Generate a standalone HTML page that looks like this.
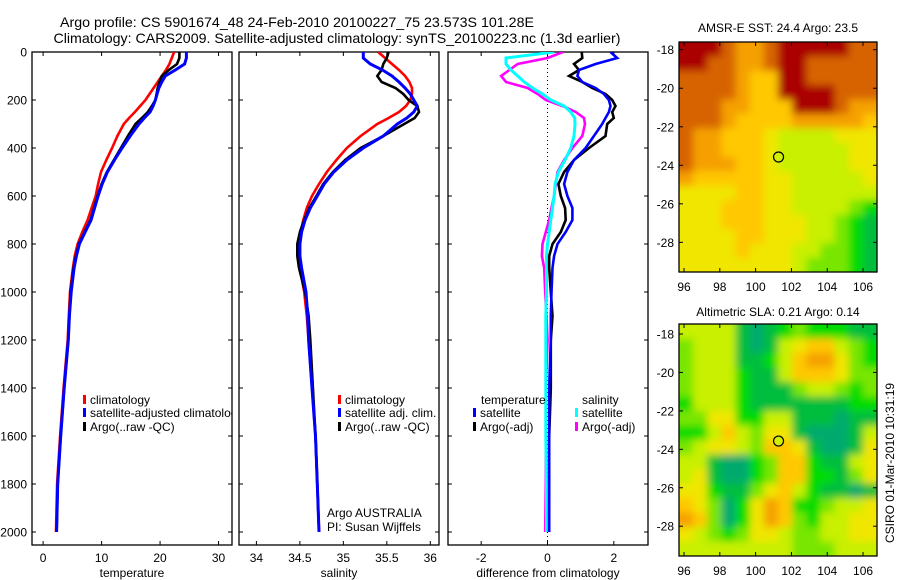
<!DOCTYPE html>
<html><head><meta charset="utf-8"><title>Argo profile</title>
<style>
html,body{margin:0;padding:0;background:#fff;}
svg{display:block;font-family:"Liberation Sans",Arial,sans-serif;}
</style></head>
<body>
<svg id="fig" width="900" height="580" viewBox="0 0 900 580" xmlns="http://www.w3.org/2000/svg">
<rect x="0" y="0" width="900" height="580" fill="#fff"/>
<text x="297" y="27" font-size="14" text-anchor="middle" textLength="474" lengthAdjust="spacingAndGlyphs">Argo profile: CS 5901674_48 24-Feb-2010 20100227_75 23.573S 101.28E</text>
<text x="337" y="43" font-size="14" text-anchor="middle" textLength="567" lengthAdjust="spacingAndGlyphs">Climatology: CARS2009. Satellite-adjusted climatology: synTS_20100223.nc (1.3d earlier)</text>
<defs>
<clipPath id="c1"><rect x="32" y="52" width="200" height="493"/></clipPath>
<clipPath id="c2"><rect x="239" y="52" width="200" height="493"/></clipPath>
<clipPath id="c3"><rect x="448" y="52" width="201" height="493"/></clipPath>
<clipPath id="m1"><rect x="679" y="42" width="198" height="230"/></clipPath>
<clipPath id="m2"><rect x="679" y="324" width="198" height="232"/></clipPath>
<filter id="smooth" x="-5%" y="-5%" width="110%" height="110%">
<feGaussianBlur stdDeviation="4"/>
<feComponentTransfer><feFuncA type="linear" slope="4" intercept="0"/></feComponentTransfer>
</filter>
</defs>
<g id="root"></g>
</svg>
<script>
// ---------- profile data ----------
const depths = [0,25,50,75,100,125,150,175,200,225,250,275,300,350,400,450,500,550,600,650,700,750,800,850,900,1000,1100,1200,1400,1600,1800,2000];
const tempClim = [22.4,22.0,21.6,21.0,20.3,19.6,18.9,18.2,17.5,16.6,15.7,14.7,13.8,12.7,11.8,10.8,9.9,9.4,9.0,8.3,7.6,6.7,5.9,5.4,5.1,4.6,4.4,4.2,3.5,2.9,2.4,2.2];
const tempSat = [24.5,24.5,24.2,22.6,20.9,20.3,19.8,19.5,19.2,18.8,18.3,17.3,16.4,14.9,13.5,12.2,11.0,10.1,9.4,8.8,8.2,7.2,6.2,5.7,5.3,4.8,4.5,4.3,3.6,3.0,2.5,2.3];
const tempArgo = [23.3,23.3,22.9,21.5,20.3,19.9,19.6,19.4,19.2,18.6,17.9,16.9,15.8,14.5,13.3,12.1,10.9,10.0,9.3,8.7,8.1,7.1,6.1,5.6,5.2,4.7,4.5,4.3,3.6,3.0,2.5,2.3];
const salClim = [35.40,35.48,35.56,35.64,35.71,35.76,35.79,35.79,35.77,35.72,35.64,35.52,35.39,35.20,35.04,34.92,34.81,34.72,34.64,34.58,34.54,34.51,34.50,34.50,34.50,34.55,34.58,34.60,34.64,34.68,34.70,34.72];
const salSat = [35.23,35.23,35.31,35.45,35.56,35.64,35.71,35.77,35.81,35.85,35.81,35.73,35.62,35.46,35.23,35.04,34.89,34.78,34.70,34.62,34.56,34.52,34.50,34.50,34.52,34.57,34.59,34.60,34.64,34.68,34.70,34.72];
const salArgo = [35.52,35.50,35.46,35.44,35.39,35.44,35.60,35.69,35.75,35.85,35.87,35.82,35.70,35.46,35.20,35.02,34.88,34.77,34.69,34.61,34.55,34.50,34.47,34.47,34.49,34.56,34.60,34.62,34.65,34.68,34.70,34.72];
const diffTempSat = [1.9,2.1,1.45,0.95,0.9,1.05,1.45,1.7,1.85,1.9,1.85,1.75,1.65,1.4,1.15,0.8,0.6,0.5,0.6,0.75,0.75,0.55,0.3,0.2,0.15,0.12,0.1,0.1,0.05,0.05,0.05,0.05];
const diffTempArgo = [1.03,1.05,0.8,0.95,0.65,1.05,1.35,1.75,1.95,2.05,1.95,2.0,1.8,1.75,1.25,0.8,0.5,0.33,0.4,0.53,0.55,0.4,0.15,0.05,0.05,0.1,0.15,0.1,0.1,0.05,0.05,0.05];
const diffSalSat = [0.2,-1.25,-1.25,-1.1,-0.9,-0.7,-0.45,-0.15,0.1,0.5,0.7,0.82,0.83,0.8,0.7,0.53,0.33,0.23,0.2,0.15,0.1,0.05,0,-0.03,-0.03,-0.03,-0.05,-0.05,-0.05,-0.05,-0.03,-0.03];
const diffSalArgo = [0.47,0.0,-0.9,-1.15,-1.4,-1.25,-0.6,-0.3,-0.05,0.45,0.85,1.1,1.13,1.05,0.75,0.5,0.3,0.25,0.2,0.12,0.05,-0.05,-0.15,-0.17,-0.1,-0.07,-0.03,0,-0.05,-0.05,-0.05,-0.07];
const depthTicks = [0,200,400,600,800,1000,1200,1400,1600,1800,2000];
const tempTicks = [0,10,20,30];
const salTicks = [34,34.5,35,35.5,36];
const salTickLabels = ['34','34.5','35','35.5','36'];
const diffTicks = [-2,0,2];
// ---------- map data (rows north->south, digits = colour level 0..9) ----------
const sstGrid = [
"99987789999988","99887789988888","88887669988888","88887669999888",
"88877666999877","88876666777776","87766654444555","87766654444455",
"87776654444455","76666655444445","55556655444444","55566655444432",
"55566655544321","55556655544321","55556555443321","55555555433321"];
const slaGrid = [
"44441012322211","34441014566432","34441124677532","34442114666533",
"34442111344323","24442111111122","33552244111011","22464355100014",
"34554366510015","44100236621145","45100236622135","55211356421101",
"65302576223445","76302576324455","54323554334455","44444444333444"];
const mapColors = ['#00aa6e','#00be3c','#00dc00','#78e600','#c8f000','#f0e600','#ffc800','#f5a000','#d76400','#aa0000'];
const lonTicks = [96,98,100,102,104,106];
const latTicks = [-18,-20,-22,-24,-26,-28];
const argoLon = 101.28, argoLat = -23.57;

const NS = 'http://www.w3.org/2000/svg';
const root = document.getElementById('root');
function mk(tag, attrs, parent){
  const e = document.createElementNS(NS, tag);
  for (const k in attrs) e.setAttribute(k, attrs[k]);
  (parent||root).appendChild(e);
  return e;
}
function yD(d){ return 52 + d*0.24; }

function panel(name, x0, xmin, xmax, ticks, tickLabels, xlabel, clipId, showYLabels){
  const w = 200;
  const sx = v => x0 + (v - xmin)/(xmax - xmin)*w;
  const frame = mk('rect',{x:x0,y:52,width:w,height:493,fill:'none',stroke:'#000','stroke-width':1.3});
  
  
  depthTicks.forEach(d=>{
    const y = yD(d);
    const t1 = mk('line',{x1:x0,x2:x0+4,y1:y,y2:y,stroke:'#000','stroke-width':1});
    
    
    const t2 = mk('line',{x1:x0+w-4,x2:x0+w,y1:y,y2:y,stroke:'#000','stroke-width':1});
    
    
    if (showYLabels){
      const lb = mk('text',{x:27,y:y+4.5,'font-size':12,'text-anchor':'end'});
      lb.textContent = d;
      
      
    }
  });
  ticks.forEach((v,i)=>{
    const x = sx(v);
    const t1 = mk('line',{x1:x,x2:x,y1:545,y2:541,stroke:'#000','stroke-width':1});
    
    
    const t2 = mk('line',{x1:x,x2:x,y1:52,y2:56,stroke:'#000','stroke-width':1});
    
    
    const lb = mk('text',{x:x,y:562,'font-size':12,'text-anchor':'middle'});
    lb.textContent = tickLabels[i];
    
    
  });
  const xl = mk('text',{x:x0+w/2,y:577,'font-size':12,'text-anchor':'middle'});
  xl.textContent = xlabel;
  
  
  return sx;
}
function series(sx, vals, color, nm, clipId, sw){
  const pts = vals.map((v,i)=> sx(v).toFixed(1)+','+yD(depths[i]).toFixed(1)).join(' ');
  const pl = mk('polyline',{points:pts,fill:'none',stroke:color,'stroke-width':sw||2.6,'stroke-linejoin':'miter','clip-path':'url(#'+clipId+')'});
  
  
}
function legendEntry(x, y, color, label, nm){
  const b = mk('rect',{x:x,y:y-9,width:3,height:9,fill:color});
  
  
  const t = mk('text',{x:x+7,y:y,'font-size':12});
  t.textContent = label;
  
  
  return t;
}

// panel 1 temperature
const sxT = panel('temperature-panel', 32, -1.9, 32.3, tempTicks, tempTicks.map(String), 'temperature', 'c1', true);
series(sxT, tempClim, '#ff0000', 'temperature-climatology-line', 'c1');
series(sxT, tempArgo, '#000000', 'temperature-argo-line', 'c1');
series(sxT, tempSat, '#0000ff', 'temperature-satellite-line', 'c1', 3);
const lg1 = mk('g',{'clip-path':'url(#c1)'});


[['#ff0000','climatology',404],['#0000ff','satellite-adjusted climatology',417],['#000000','Argo(..raw -QC)',431]].forEach(e=>{
  const b = mk('rect',{x:83,y:e[2]-9,width:3,height:9,fill:e[0]},lg1);
  
  
  const t = mk('text',{x:90,y:e[2],'font-size':12},lg1);
  t.textContent = e[1];
  
  
});

// panel 2 salinity
const sxS = panel('salinity-panel', 239, 33.8, 36.1, salTicks, salTickLabels, 'salinity', 'c2', false);
series(sxS, salClim, '#ff0000', 'salinity-climatology-line', 'c2');
series(sxS, salArgo, '#000000', 'salinity-argo-line', 'c2');
series(sxS, salSat, '#0000ff', 'salinity-satellite-line', 'c2', 3);
legendEntry(338,404,'#ff0000','climatology','salinity-legend-climatology');
legendEntry(338,417,'#0000ff','satellite adj. clim.','salinity-legend-satellite');
legendEntry(338,431,'#000000','Argo(..raw -QC)','salinity-legend-argo');
const a1 = mk('text',{x:327,y:517,'font-size':12});
a1.textContent = 'Argo AUSTRALIA';


const a2 = mk('text',{x:327,y:531,'font-size':12});
a2.textContent = 'PI: Susan Wijffels';



// panel 3 difference
const sxD = panel('difference-panel', 448, -3, 3.03, diffTicks, diffTicks.map(String), 'difference from climatology', 'c3', false);
const zl = mk('line',{x1:sxD(0),x2:sxD(0),y1:52,y2:545,stroke:'#000','stroke-width':1,'stroke-dasharray':'1,3'});


series(sxD, diffSalArgo, '#ff00ff', 'salinity-argo-difference-line', 'c3');
series(sxD, diffSalSat, '#00ffff', 'salinity-satellite-difference-line', 'c3', 3);
series(sxD, diffTempArgo, '#000000', 'temperature-argo-difference-line', 'c3');
series(sxD, diffTempSat, '#0000ff', 'temperature-satellite-difference-line', 'c3');
const lt = mk('text',{x:481,y:404,'font-size':12});
lt.textContent = 'temperature';


const ls = mk('text',{x:582,y:404,'font-size':12});
ls.textContent = 'salinity';


legendEntry(473,417,'#0000ff','satellite','difference-legend-temp-satellite');
legendEntry(473,431,'#000000','Argo(-adj)','difference-legend-temp-argo');
legendEntry(575,417,'#00ffff','satellite','difference-legend-sal-satellite');
legendEntry(575,431,'#ff00ff','Argo(-adj)','difference-legend-sal-argo');

// ---------- maps ----------
function drawMap(name, grid, top, bottom, latTop, latBottom, title, titleY, clipId){
  const left = 679, right = 877, lonL = 95.72, lonR = 106.78;
  const sx = lon => left + (lon-lonL)/(lonR-lonL)*(right-left);
  const sy = lat => top + (latTop-lat)/(latTop-latBottom)*(bottom-top);
  const rows = grid.length, cols = grid[0].length;
  const cw = (right-left)/cols, ch = (bottom-top)/rows;
  const clipG = mk('g',{'clip-path':'url(#'+clipId+')'});
  
  
  const g = mk('g',{filter:'url(#smooth)'}, clipG);
  
  
  grid.forEach((row,r)=>{
    for (let c=0;c<cols;c++){
      const cell = mk('rect',{x:(left+c*cw).toFixed(2),y:(top+r*ch).toFixed(2),width:(cw+0.6).toFixed(2),height:(ch+0.6).toFixed(2),fill:mapColors[+row[c]]},g);
      
      
    }
  });
  const fr = mk('rect',{x:left,y:top,width:right-left,height:bottom-top,fill:'none',stroke:'#000','stroke-width':1.3});
  
  
  lonTicks.forEach(v=>{
    const x = sx(v);
    const t = mk('line',{x1:x,x2:x,y1:bottom,y2:bottom-4,stroke:'#000'});
    
    
    const t2 = mk('line',{x1:x,x2:x,y1:top,y2:top+4,stroke:'#000'});
    
    
    const lb = mk('text',{x:x,y:bottom+19,'font-size':12,'text-anchor':'middle'});
    lb.textContent = v;
    
    
  });
  latTicks.forEach(v=>{
    const y = sy(v);
    const t = mk('line',{x1:left,x2:left+4,y1:y,y2:y,stroke:'#000'});
    
    
    const t2 = mk('line',{x1:right-4,x2:right,y1:y,y2:y,stroke:'#000'});
    
    
    const lb = mk('text',{x:674,y:y+4.5,'font-size':12,'text-anchor':'end'});
    lb.textContent = v;
    
    
  });
  const mk1 = mk('circle',{cx:sx(argoLon),cy:sy(argoLat),r:5,fill:'#d2f000',stroke:'#000','stroke-width':1.2});
  
  
  const tt = mk('text',{x:778,y:titleY,'font-size':12,'text-anchor':'middle'});
  tt.textContent = title;
  
  
}
drawMap('sst-map', sstGrid, 42, 272, -17.6, -29.54, 'AMSR-E SST: 24.4 Argo: 23.5', 32, 'm1');
drawMap('sla-map', slaGrid, 324, 556, -17.48, -29.55, 'Altimetric SLA: 0.21 Argo: 0.14', 316, 'm2');
const cs = mk('text',{x:0,y:0,'font-size':12,'text-anchor':'middle',transform:'translate(894,463) rotate(-90)'});
cs.textContent = 'CSIRO 01-Mar-2010 10:31:19';


</script>
</body></html>
